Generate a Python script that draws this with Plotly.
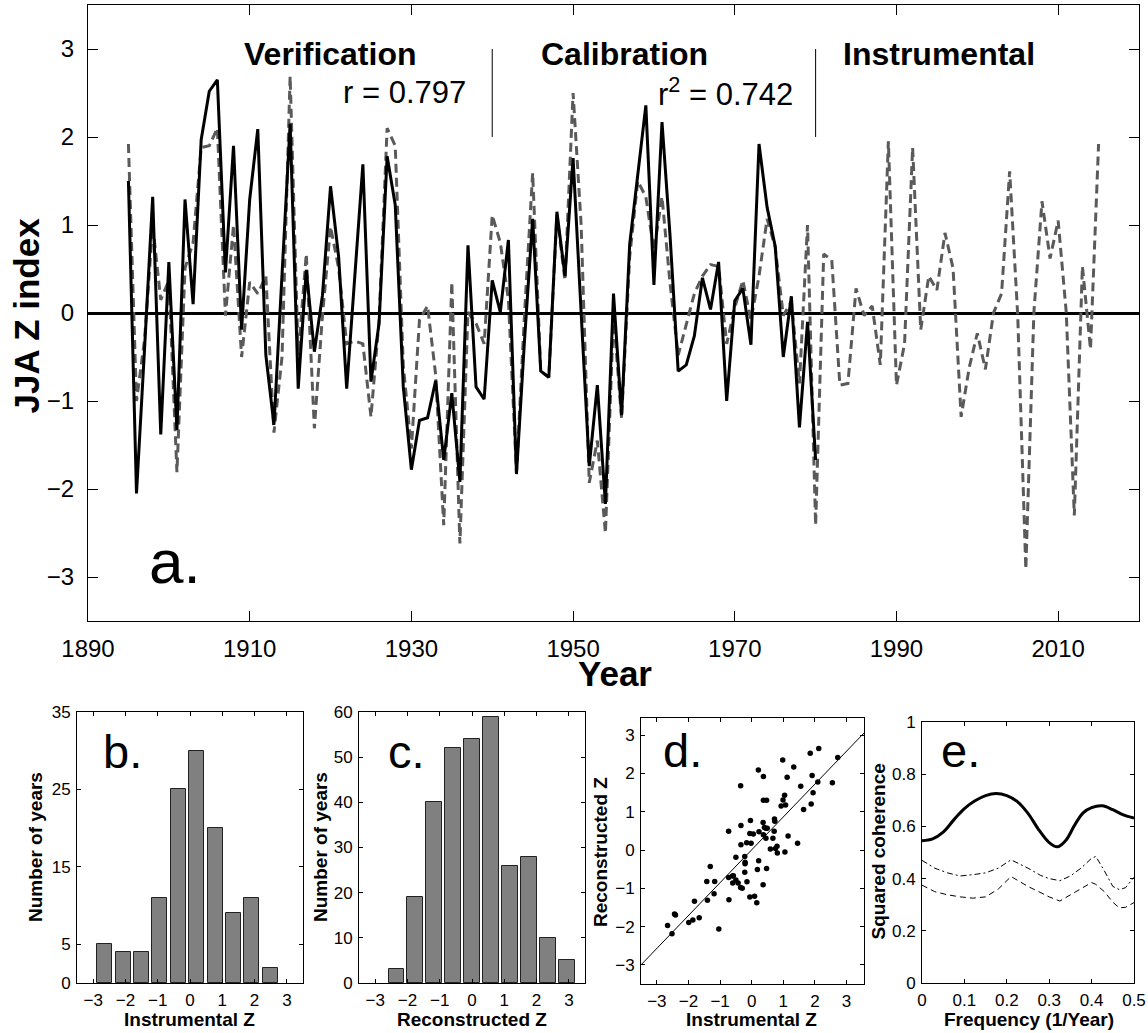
import plotly.graph_objects as go

W, H = 1148, 1033
FONT = "Liberation Sans, Arial, Helvetica, sans-serif"

# ---------------- data ----------------
years_recon = list(range(1895, 1981))
z_recon = [1.50, -2.05, -0.40, 1.32, -1.38, 0.58, -1.33, 1.29, 0.10, 1.97,
           2.52, 2.65, 0.46, 1.90, -0.19, 1.29, 2.09, -0.48, -1.27, 0.40,
           2.15, -0.86, 0.49, -0.44, 0.20, 1.44, 0.64, -0.86, 0.40, 1.69,
           -0.78, -0.12, 1.78, 1.23, -0.84, -1.78, -1.22, -1.19, -0.77, -1.67,
           -0.91, -1.92, 0.77, -0.84, -0.98, 0.37, 0.01, 0.83, -1.83, -0.30,
           1.07, -0.66, -0.73, 1.15, 0.42, 1.76, 0.00, -1.74, -0.82, -2.17,
           0.22, -1.16, 0.78, 1.59, 2.36, 0.32, 2.17, 0.87, -0.66, -0.59,
           -0.26, 0.40, 0.04, 0.58, -1.00, 0.14, 0.28, -0.36, 1.92, 1.20,
           0.76, -0.50, 0.19, -1.30, -0.10, -1.67]

years_instr = list(range(1895, 2016))
z_instr = [1.92, -1.00, -0.30, 1.00, 0.15, 0.37, -1.81, 0.51, 0.80, 1.88,
           1.90, 2.10, -0.03, 1.00, -0.50, 0.35, 0.22, 0.42, -1.36, -0.50,
           2.69, -0.48, 0.67, -1.31, -0.03, 0.98, 0.51, -0.35, -0.32, -0.35,
           -1.18, -0.08, 2.10, 1.90, -0.60, -1.54, -0.08, 0.08, -0.70, -2.41,
           0.35, -2.62, 0.01, -0.12, -0.35, 1.11, 0.80, 0.15, -1.81, 0.00,
           1.59, -0.66, -0.73, 1.11, 0.37, 2.50, 1.00, -1.93, -1.45, -2.50,
           -0.03, -1.20, 0.64, 1.50, 1.32, 0.71, 1.32, 0.33, -0.48, -0.12,
           0.22, 0.42, 0.55, 0.53, -0.35, 0.06, 0.37, -0.08, 0.42, 1.07,
           0.75, -0.03, 0.13, -0.80, 1.00, -2.41, 0.67, 0.60, -0.82, -0.80,
           0.28, -0.03, 0.08, -0.59, 1.95, -0.82, -0.35, 1.88, -0.19, 0.42,
           0.26, 0.91, 0.51, -1.18, -0.62, -0.23, -0.64, 0.00, 0.22, 1.61,
           -0.03, -2.91, 0.01, 1.27, 0.62, 1.05, 0.01, -2.30, 0.53, -0.41,
           1.92]

period_names = ["Verification", "Calibration", "Instrumental"]
period_name_years = [1920.0, 1956.4, 1995.3]
stat_texts = ["r = 0.797", "r<sup>2</sup> = 0.742"]
stat_right_years = [1937.0, 1977.4]
separator_years = [1940, 1980]
separator_span = [2.0, 3.0]

hist_instr_centers = [-2.64, -2.07, -1.50, -0.93, -0.36, 0.21, 0.78, 1.34, 1.91, 2.48]
hist_instr_counts = [5, 4, 4, 11, 25, 30, 20, 9, 11, 2]
hist_recon_centers = [-2.34, -1.76, -1.17, -0.58, 0.00, 0.59, 1.18, 1.76, 2.35, 2.94]
hist_recon_counts = [3, 19, 40, 52, 54, 59, 26, 28, 10, 5]

scat_instr = [-2.66, -2.52, -2.44, -2.41, -1.99, -1.86, -1.66, -1.81, -1.40, -1.42,
              -1.31, -1.17, -1.19, -1.04, -0.73, -0.73, -0.72, -0.61, -0.58, -0.60,
              -0.50, -0.43, -0.50, -0.35, -0.34, -0.34, -0.35, -0.30, -0.22, -0.21,
              -0.21, -0.22, -0.15, -0.16, -0.04, -0.06, -0.02, 0.05, -0.06, 0.09,
              0.16, 0.22, 0.18, 0.21, 0.23, 0.37, 0.36, 0.37, 0.47, 0.40,
              0.45, 0.49, 0.47, 0.36, 0.45, 0.37, 0.59, 0.67, 0.71, 0.72,
              0.73, 0.75, 0.80, 0.81, 0.93, 0.98, 0.99, 1.04, 1.07, 1.05,
              1.12, 1.15, 1.33, 1.45, 1.55, 1.64, 1.88, 1.85, 1.91, 1.94,
              2.09, 2.12, 2.55, 2.72]
scat_recon = [-1.97, -2.19, -1.67, -1.70, -1.89, -1.83, -1.77, -1.34, -1.31, -0.82,
              -0.43, -0.82, -1.14, -2.06, 0.49, -0.72, -1.30, -0.68, -0.67, -0.86,
              -0.78, -0.86, -0.19, 1.68, 0.64, 0.14, -0.98, -1.00, -0.17, -0.32,
              -0.36, -0.58, -0.83, 0.19, 0.77, 0.43, 0.18, 0.42, -1.23, -1.21,
              -1.38, -0.28, -0.51, 2.09, 0.48, 1.92, 0.72, 1.30, 1.30, 0.59,
              0.57, 0.57, -0.48, -0.91, 0.31, 0.40, 0.03, 0.31, 0.49, 0.81,
              0.75, 0.04, 0.10, -0.08, 1.15, 2.35, 1.31, 1.43, 1.18, -0.05,
              1.90, 0.37, 2.17, 0.18, 1.67, 1.06, 1.20, 2.53, 1.95, 1.50,
              1.78, 2.65, 1.76, 2.42]
fit_x = [-3.5, 3.6]
fit_y = [-3.0, 3.1]

freq = [0.0, 0.025, 0.05, 0.075, 0.1, 0.125, 0.15, 0.175, 0.2, 0.225,
        0.25, 0.275, 0.3, 0.32, 0.34, 0.36, 0.38, 0.4, 0.425, 0.45,
        0.475, 0.5]
coh_recon = [0.545, 0.552, 0.578, 0.625, 0.668, 0.698, 0.718, 0.726, 0.718, 0.695,
             0.650, 0.588, 0.538, 0.522, 0.548, 0.605, 0.652, 0.672, 0.679, 0.664,
             0.644, 0.632]
freq_sig = [0.0, 0.03, 0.06, 0.09, 0.12, 0.15, 0.18, 0.21, 0.25, 0.28,
            0.3, 0.325, 0.35, 0.375, 0.4, 0.41, 0.43, 0.45, 0.465, 0.48, 0.5]
coh_sig95 = [0.470, 0.440, 0.422, 0.410, 0.415, 0.422, 0.440, 0.472, 0.440, 0.412,
             0.400, 0.392, 0.410, 0.440, 0.478, 0.485, 0.430, 0.370, 0.358, 0.365, 0.405]
coh_sig90 = [0.375, 0.350, 0.338, 0.330, 0.325, 0.330, 0.360, 0.408, 0.370, 0.345,
             0.330, 0.314, 0.338, 0.362, 0.385, 0.378, 0.350, 0.310, 0.288, 0.290, 0.308]

# ---------------- figure ----------------
fig = go.Figure()

def dom_x(a, b):
    return [a / W, b / W]

def dom_y(top, bottom):
    return [1 - bottom / H, 1 - top / H]

# main panel traces
fig.add_trace(go.Scatter(x=years_instr, y=z_instr, mode="lines",
                         line=dict(color="#5a5a5a", width=3, dash="9px,5px"),
                         xaxis="x", yaxis="y", showlegend=False))
fig.add_trace(go.Scatter(x=years_recon, y=z_recon, mode="lines",
                         line=dict(color="black", width=3),
                         xaxis="x", yaxis="y", showlegend=False))
for yr in separator_years:
    fig.add_trace(go.Scatter(x=[yr, yr], y=separator_span, mode="lines",
                             line=dict(color="black", width=1),
                             xaxis="x", yaxis="y", showlegend=False))

# histograms
fig.add_trace(go.Bar(x=hist_instr_centers, y=hist_instr_counts, width=0.465,
                     marker=dict(color="#808080", line=dict(color="#222222", width=1)),
                     xaxis="x2", yaxis="y2", showlegend=False))
fig.add_trace(go.Bar(x=hist_recon_centers, y=hist_recon_counts, width=0.485,
                     marker=dict(color="#808080", line=dict(color="#222222", width=1)),
                     xaxis="x3", yaxis="y3", showlegend=False))

# scatter
fig.add_trace(go.Scatter(x=fit_x, y=fit_y, mode="lines",
                         line=dict(color="black", width=1),
                         xaxis="x4", yaxis="y4", showlegend=False))
fig.add_trace(go.Scatter(x=scat_instr, y=scat_recon, mode="markers",
                         marker=dict(color="black", size=5.5),
                         xaxis="x4", yaxis="y4", showlegend=False))

# coherence
fig.add_trace(go.Scatter(x=freq, y=coh_recon, mode="lines", line_shape="spline",
                         line=dict(color="black", width=3),
                         xaxis="x5", yaxis="y5", showlegend=False))
fig.add_trace(go.Scatter(x=freq_sig, y=coh_sig95, mode="lines",
                         line=dict(color="black", width=1, dash="6px,3px,2px,3px"),
                         xaxis="x5", yaxis="y5", showlegend=False))
fig.add_trace(go.Scatter(x=freq_sig, y=coh_sig90, mode="lines",
                         line=dict(color="black", width=1, dash="6px,4px"),
                         xaxis="x5", yaxis="y5", showlegend=False))

def axis(domain, rng, tickvals, ticktext=None, size=17, ticklen=4, standoff=2, **kw):
    d = dict(domain=domain, range=rng, tickvals=tickvals, automargin=False,
             showline=True, linecolor="black", linewidth=1, mirror="ticks",
             ticks="inside", ticklen=ticklen, tickcolor="black", tickwidth=1,
             showgrid=False, zeroline=False,
             tickfont=dict(family=FONT, size=size, color="black"),
             ticklabelstandoff=standoff, fixedrange=True)
    if ticktext is not None:
        d["ticktext"] = ticktext
    d.update(kw)
    return d

fig.update_layout(
    width=W, height=H, margin=dict(l=0, r=0, t=0, b=0, autoexpand=False),
    paper_bgcolor="white", plot_bgcolor="white",
    font=dict(family=FONT, color="black"),
    bargap=0,
    xaxis=axis(dom_x(88, 1139), [1890, 2020], [1890, 1910, 1930, 1950, 1970, 1990, 2010],
               size=24, ticklen=10, standoff=6, anchor="y"),
    yaxis=axis(dom_y(5, 621), [-3.5, 3.5], [-3, -2, -1, 0, 1, 2, 3],
               size=24, ticklen=10, standoff=8, anchor="x",
               zeroline=True, zerolinecolor="black", zerolinewidth=3),
    xaxis2=axis(dom_x(77, 303), [-3.5, 3.5], [-3, -2, -1, 0, 1, 2, 3], anchor="y2"),
    yaxis2=axis(dom_y(712, 983), [0, 35], [0, 5, 15, 25, 35], anchor="x2"),
    xaxis3=axis(dom_x(359, 585), [-3.5, 3.5], [-3, -2, -1, 0, 1, 2, 3], anchor="y3"),
    yaxis3=axis(dom_y(712, 983), [0, 60], [0, 10, 20, 30, 40, 50, 60], anchor="x3"),
    xaxis4=axis(dom_x(641, 864), [-3.5, 3.55], [-3, -2, -1, 0, 1, 2, 3], anchor="y4"),
    yaxis4=axis(dom_y(718, 984), [-3.5, 3.45], [-3, -2, -1, 0, 1, 2, 3], anchor="x4"),
    xaxis5=axis(dom_x(922, 1134), [0, 0.5], [0, 0.1, 0.2, 0.3, 0.4, 0.5],
                ticktext=["0", "0.1", "0.2", "0.3", "0.4", "0.5"], anchor="y5"),
    yaxis5=axis(dom_y(722, 983), [0, 1], [0, 0.2, 0.4, 0.6, 0.8, 1],
                ticktext=["0", "0.2", "0.4", "0.6", "0.8", "1"], anchor="x5"),
)

ann = []
# main panel text
for name, yr in zip(period_names, period_name_years):
    ann.append(dict(x=yr, y=2.94, xref="x", yref="y", text=f"<b>{name}</b>",
                    showarrow=False, xanchor="center", yanchor="middle",
                    font=dict(family=FONT, size=32, color="black")))
for txt, yr in zip(stat_texts, stat_right_years):
    ann.append(dict(x=yr, y=2.51, xref="x", yref="y", text=txt,
                    showarrow=False, xanchor="right", yanchor="middle",
                    font=dict(family=FONT, size=31, color="black")))
ann.append(dict(x=1897.3, y=-2.82, xref="x", yref="y", text="a.", showarrow=False,
                xanchor="left", yanchor="middle",
                font=dict(family=FONT, size=62, color="black")))

# panel letters
for letter, xa, ya, xd, yd in [("b.", "x2", "y2", 0.105, 0.856),
                               ("c.", "x3", "y3", 0.118, 0.856),
                               ("d.", "x4", "y4", 0.088, 0.876),
                               ("e.", "x5", "y5", 0.080, 0.889)]:
    ann.append(dict(x=xd, y=yd, xref=f"{xa} domain", yref=f"{ya} domain", text=letter,
                    showarrow=False, xanchor="left", yanchor="middle",
                    font=dict(family=FONT, size=47, color="black")))

# axis titles (paper coords)
def ptitle(text, xc, yc, size, angle=0):
    ann.append(dict(x=xc / W, y=1 - yc / H, xref="paper", yref="paper",
                    text=f"<b>{text}</b>", showarrow=False, textangle=angle,
                    xanchor="center", yanchor="middle",
                    font=dict(family=FONT, size=size, color="black")))

ptitle("JJA Z index", 25.5, 316, 35, -90)
ptitle("Year", 614.5, 673, 35)
ptitle("Number of years", 35, 847, 19, -90)
ptitle("Instrumental Z", 189, 1019, 19)
ptitle("Number of years", 320, 847, 19, -90)
ptitle("Reconstructed Z", 472, 1019, 19)
ptitle("Reconstructed Z", 600, 852, 19, -90)
ptitle("Instrumental Z", 752, 1019, 19)
ptitle("Squared coherence", 877.5, 852, 19, -90)
ptitle("Frequency (1/Year)", 1029, 1019, 19)

fig.update_layout(annotations=ann)

fig.write_html("out.html", include_plotlyjs=True, full_html=True,
               config={"displayModeBar": False})
